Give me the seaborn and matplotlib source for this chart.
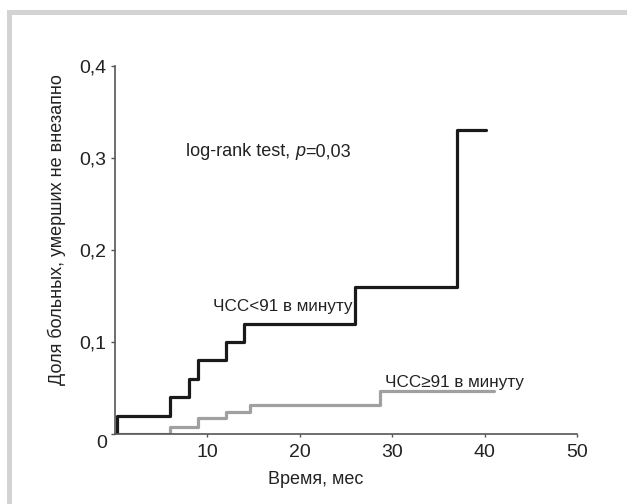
import numpy as np
import pandas as pd
import matplotlib
matplotlib.use("Agg")
import matplotlib.pyplot as plt
import matplotlib.transforms as mtransforms
from matplotlib.patches import Rectangle
import seaborn as sns

# ---- data ----
low_hr_time = [0.25, 0.25, 6, 8, 9, 12, 14, 26, 37, 40.2]
low_hr_value = [0.0, 0.02, 0.04, 0.06, 0.08, 0.10, 0.12, 0.16, 0.33, 0.33]
high_hr_time = [0.25, 6, 9, 12, 14.6, 28.7, 41]
high_hr_value = [0.0, 0.008, 0.017, 0.024, 0.032, 0.047, 0.047]
x_ticks = [10, 20, 30, 40, 50]
y_ticks = [0, 0.1, 0.2, 0.3, 0.4]
y_tick_labels = ["0", "0,1", "0,2", "0,3", "0,4"]
x_label = "Время, мес"
y_label = "Доля больных, умерших не внезапно"
label_low = "ЧСС<91 в минуту"
label_high = "ЧСС≥91 в минуту"
test_text = "log-rank test, "
p_symbol = "p"
p_text = "=0,03"

sns.set_theme(style="white")
plt.rcParams["font.family"] = ["Liberation Sans", "DejaVu Sans"]

fig = plt.figure(figsize=(6.27, 5.04), dpi=100)
W, H = 627, 504
ax = fig.add_axes([115 / W, 1 - 434 / H, 462 / W, 368 / H])

# frame border (top and left)
fig.patches.append(Rectangle((6.5 / W, 0), 5 / W, 1 - 10 / H, transform=fig.transFigure,
                             facecolor="#d3d3d3", edgecolor="none", zorder=0))
fig.patches.append(Rectangle((6.5 / W, 1 - 15 / H), 1, 5 / H, transform=fig.transFigure,
                             facecolor="#d3d3d3", edgecolor="none", zorder=0))

df_low = pd.DataFrame({"t": low_hr_time, "v": low_hr_value})
df_high = pd.DataFrame({"t": high_hr_time, "v": high_hr_value})
sns.lineplot(data=df_high, x="t", y="v", ax=ax, estimator=None, sort=False,
             drawstyle="steps-post", color="#a0a0a0", linewidth=2.3)
sns.lineplot(data=df_low, x="t", y="v", ax=ax, estimator=None, sort=False,
             drawstyle="steps-post", color="#1a1a1a", linewidth=2.3)

ax.set_xlim(0, 50)
ax.set_ylim(0, 0.4)
ax.set_xticks(x_ticks)
ax.set_xticklabels([str(t) for t in x_ticks])
ax.set_yticks(y_ticks)
ax.set_yticklabels(y_tick_labels)

for s in ["top", "right"]:
    ax.spines[s].set_visible(False)
for s in ["left", "bottom"]:
    ax.spines[s].set_color("#555555")
    ax.spines[s].set_linewidth(1.2)

ax.tick_params(axis="y", direction="out", length=3, width=1.0, color="#555555",
               labelsize=14, pad=3, left=True, labelcolor="#222222")
ax.tick_params(axis="x", direction="out", length=2.5, width=1.0, color="#555555",
               labelsize=14, pad=5, bottom=True, labelcolor="#222222")

# shift the "0" y label down
lbl0 = ax.get_yticklabels()[0]
lbl0.set_transform(lbl0.get_transform() + mtransforms.ScaledTranslation(0, -7 / 100, fig.dpi_scale_trans))

ax.set_xlabel(x_label, fontsize=13, color="#222222")
ax.set_ylabel(y_label, fontsize=13, color="#222222")
ax.xaxis.set_label_coords((316 - 115) / 462, -(479 - 434) / 368)
ax.yaxis.set_label_coords(-(115 - 57) / 462, (434 - 230) / 368)
ax.xaxis.label.set_va("center")
ax.yaxis.label.set_va("center")

# log-rank annotation with italic p
ty = 0.307
fs = 13
t1 = ax.text(7.7, ty, test_text, fontsize=fs, color="#222222", va="center", ha="left")
fig.canvas.draw()
bb = t1.get_window_extent()
x1 = ax.transData.inverted().transform((bb.x1, bb.y0))[0]
t2 = ax.text(x1, ty, p_symbol, fontsize=fs, color="#222222", va="center", ha="left", style="italic")
fig.canvas.draw()
bb2 = t2.get_window_extent()
x2 = ax.transData.inverted().transform((bb2.x1, bb2.y0))[0]
ax.text(x2, ty, p_text, fontsize=fs, color="#222222", va="center", ha="left")

ax.text((213 - 115) / 9.24, (434 - 306) / 920, label_low, fontsize=12.3, color="#222222",
        va="center", ha="left")
ax.text((385 - 115) / 9.24, (434 - 382) / 920, label_high, fontsize=12.3, color="#222222",
        va="center", ha="left")

fig.savefig("out.png", dpi=100)
